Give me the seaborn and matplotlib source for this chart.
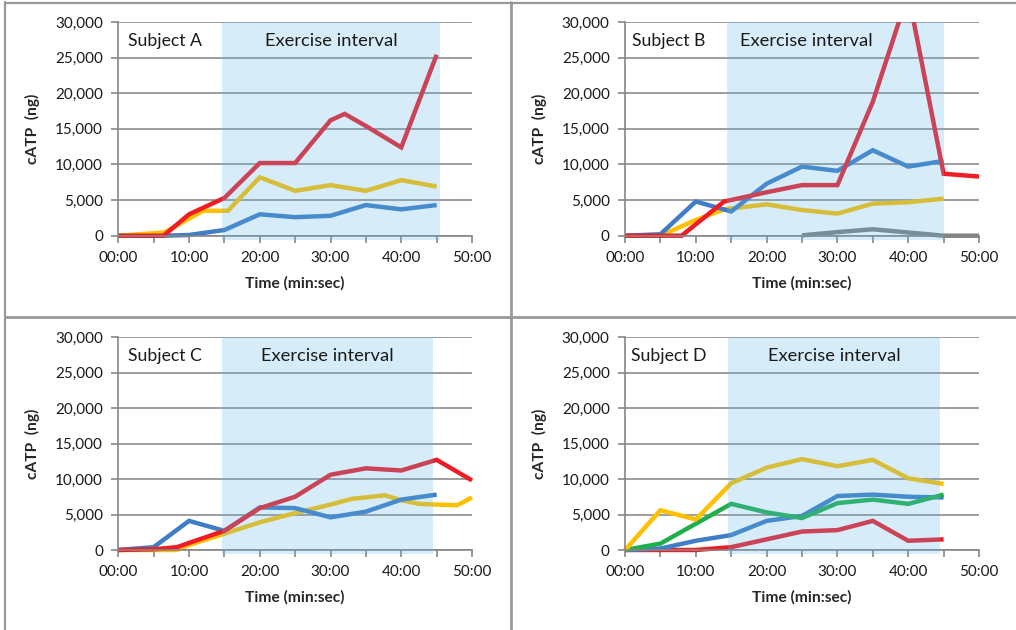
import numpy as np
import pandas as pd
import matplotlib
matplotlib.use('Agg')
import matplotlib.pyplot as plt
from matplotlib.patches import Rectangle
from matplotlib.lines import Line2D
from matplotlib.ticker import FuncFormatter, MultipleLocator
import seaborn as sns

sns.set_theme(style='white')
plt.rcParams['font.family'] = ['Lato', 'DejaVu Sans']

# Cores (estilo Excel)
BLUE = '#3F7DC6'
RED = '#EE1C25'
YELLOW = '#FFC000'
GREEN = '#1FAE4B'
GRAY = '#808080'

# ---------------- Dados (minutos, ng) ----------------
# Subject A
a_blue_t = [0, 6.5, 10, 15, 20, 25, 30, 35, 40, 45]
a_blue_v = [0, 0, 100, 800, 3000, 2600, 2800, 4300, 3700, 4300]
a_yellow_t = [0, 6.5, 10, 12, 15.5, 20, 25, 30, 35, 40, 45]
a_yellow_v = [0, 450, 2400, 3500, 3500, 8200, 6300, 7100, 6300, 7800, 6900]
a_red_t = [0, 6.4, 10, 15, 20, 25, 30, 32, 35, 40, 45]
a_red_v = [0, 0, 3000, 5300, 10200, 10200, 16200, 17100, 15400, 12400, 25400]

# Subject B
b_blue_t = [0, 5, 10, 15, 20, 25, 30, 35, 40, 45]
b_blue_v = [0, 200, 4800, 3400, 7300, 9700, 9100, 12000, 9700, 10500]
b_yellow_t = [0, 5, 10, 14, 20, 25, 30, 35, 40, 45]
b_yellow_v = [0, 0, 2200, 3700, 4400, 3600, 3100, 4500, 4700, 5200]
b_red_t = [0, 5, 8, 14, 20, 25, 30, 35, 40, 45, 50]
b_red_v = [0, 0, 0, 4800, 6100, 7100, 7100, 18800, 34000, 8700, 8300]
b_gray_t = [25, 30, 35, 40, 45, 50]
b_gray_v = [50, 500, 900, 450, 0, 0]

# Subject C
c_blue_t = [0, 5, 10, 15, 20, 25, 30, 35, 40, 45]
c_blue_v = [0, 400, 4100, 2700, 6000, 5900, 4600, 5400, 7100, 7800]
c_yellow_t = [0, 5, 8.3, 10, 15, 20, 25, 30, 33, 37.7, 40, 42.5, 45, 47.9, 50]
c_yellow_v = [0, 0, 0, 700, 2300, 3900, 5200, 6400, 7200, 7700, 7000, 6500, 6400, 6300, 7400]
c_red_t = [0, 5, 8.3, 10, 15, 20, 25, 30, 35, 40, 45, 50]
c_red_v = [0, 100, 400, 1000, 2700, 5900, 7500, 10600, 11500, 11200, 12700, 9800]

# Subject D
d_blue_t = [0, 5, 10, 15, 20, 25, 30, 35, 40, 45]
d_blue_v = [0, 200, 1300, 2100, 4100, 4800, 7600, 7800, 7500, 7400]
d_red_t = [0, 5, 10, 15, 20, 25, 30, 35, 40, 45]
d_red_v = [0, 0, 0, 400, 1500, 2600, 2800, 4100, 1300, 1500]
d_green_t = [0, 5, 10, 15, 20, 25, 30, 35, 40, 45]
d_green_v = [0, 900, 3700, 6500, 5300, 4500, 6600, 7100, 6500, 7800]
d_yellow_t = [0, 5, 10, 15, 20, 25, 30, 35, 40, 45]
d_yellow_v = [0, 5600, 4300, 9400, 11600, 12800, 11800, 12700, 10100, 9300]

subjects = ['Subject A', 'Subject B', 'Subject C', 'Subject D']
# intervalo de exercicio (min) em cada painel
exercise_start = [14.7, 14.4, 14.7, 14.5]
exercise_end = [45.5, 45.1, 44.5, 44.5]

series = [
    [(a_blue_t, a_blue_v, BLUE), (a_yellow_t, a_yellow_v, YELLOW), (a_red_t, a_red_v, RED)],
    [(b_gray_t, b_gray_v, GRAY), (b_yellow_t, b_yellow_v, YELLOW), (b_blue_t, b_blue_v, BLUE),
     (b_red_t, b_red_v, RED)],
    [(c_yellow_t, c_yellow_v, YELLOW), (c_blue_t, c_blue_v, BLUE), (c_red_t, c_red_v, RED)],
    [(d_red_t, d_red_v, RED), (d_blue_t, d_blue_v, BLUE), (d_green_t, d_green_v, GREEN),
     (d_yellow_t, d_yellow_v, YELLOW)],
]

# posicao dos eixos em pixels da figura
W, H = 1016, 630
boxes = [
    (118.3, 22, 472, 235.7),
    (625, 22, 979, 235.7),
    (118.3, 337, 472, 550),
    (625, 337, 979, 550),
]
label_x = [1.4, 1.0, 1.4, 0.85]
interval_x = [30.1, 25.6, 29.6, 29.5]

fig = plt.figure(figsize=(W / 100, H / 100), dpi=100)
fig.patch.set_facecolor('white')

for i, (x0, y0, x1, y1) in enumerate(boxes):
    ax = fig.add_axes([x0 / W, 1 - y1 / H, (x1 - x0) / W, (y1 - y0) / H])
    ax.set_facecolor('white')

    for t, v, c in series[i]:
        sns.lineplot(x=t, y=v, color=c, linewidth=3.2, ax=ax, sort=False,
                     estimator=None)
    clip = Rectangle((-1, -1500), 52, 31500, transform=ax.transData)
    for ln in ax.lines:
        ln.set_clip_path(clip)
        ln.set_solid_capstyle('butt')
        ln.set_solid_joinstyle('miter')

    # faixa do exercicio (sobreposta as linhas, semi-transparente)
    ax.add_patch(Rectangle((exercise_start[i], -600),
                           exercise_end[i] - exercise_start[i], 30600,
                           facecolor=(99 / 255, 182 / 255, 228 / 255), alpha=0.26,
                           edgecolor='none', zorder=5, clip_on=False))

    ax.set_xlim(0, 50)
    ax.set_ylim(0, 30000)
    ax.xaxis.set_major_locator(MultipleLocator(10))
    ax.xaxis.set_minor_locator(MultipleLocator(5))
    ax.yaxis.set_major_locator(MultipleLocator(5000))
    ax.xaxis.set_major_formatter(FuncFormatter(lambda x, p: f'{int(x):02d}:00'))
    ax.yaxis.set_major_formatter(FuncFormatter(lambda y, p: f'{int(y):,}'))
    ax.grid(axis='y', color='#8C8C8C', linewidth=1.2)
    ax.set_axisbelow(True)
    for s in ['top', 'right']:
        ax.spines[s].set_visible(False)
    for s in ['left', 'bottom']:
        ax.spines[s].set_color('#868686')
        ax.spines[s].set_linewidth(1.2)
    ax.tick_params(axis='both', which='both', direction='out', color='#868686',
                   width=1.2, labelsize=11, labelcolor='#1a1a1a')
    ax.tick_params(axis='x', which='both', length=5, pad=6, bottom=True)
    ax.tick_params(axis='y', length=5, pad=6, left=True)

    ax.set_xlabel('Time (min:sec)', fontsize=11.2, fontweight='bold', labelpad=8)
    ax.set_ylabel('cATP  (ng)', fontsize=11.2, fontweight='bold', labelpad=11)

    ax.text(label_x[i], 27300, subjects[i], fontsize=12.7, ha='left', va='center',
            color='#1a1a1a', zorder=6)
    ax.text(interval_x[i], 27300, 'Exercise interval', fontsize=13.2, ha='center',
            va='center', color='#1a1a1a', zorder=6)

# molduras e divisorias dos paineis
frame = '#999999'
fig.add_artist(Line2D([4.5 / W, 4.5 / W], [0, 1 - 2 / H], color=frame, lw=1.6))
fig.add_artist(Line2D([4.5 / W, 1], [1 - 2.5 / H, 1 - 2.5 / H], color=frame, lw=1.6))
fig.add_artist(Line2D([511 / W, 511 / W], [0, 1 - 2 / H], color=frame, lw=2))
fig.add_artist(Line2D([4.5 / W, 1], [1 - 317 / H, 1 - 317 / H], color=frame, lw=2))

plt.savefig('out.png', dpi=100, facecolor='white')
plt.close()
